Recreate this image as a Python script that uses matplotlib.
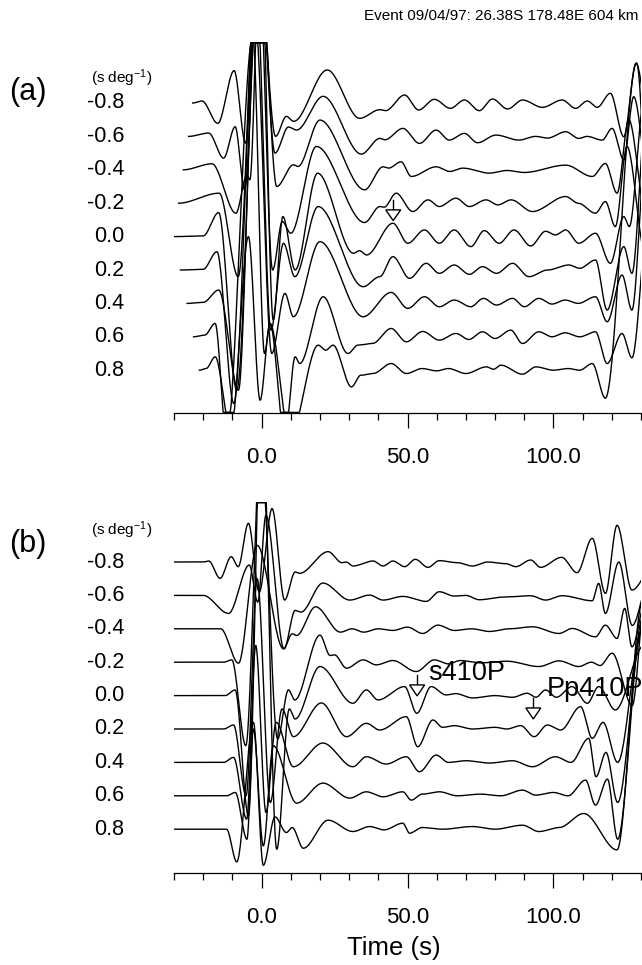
import numpy as np
import matplotlib
matplotlib.use("Agg")
import matplotlib.pyplot as plt
from matplotlib.patches import Polygon
from matplotlib.bezier import BezierSegment
import matplotlib.transforms as mtransforms

plt.rcParams['font.family'] = ['Liberation Sans', 'DejaVu Sans']
plt.rcParams['mathtext.fontset'] = 'custom'
plt.rcParams['mathtext.rm'] = 'Liberation Sans'
plt.rcParams['mathtext.it'] = 'Liberation Sans'
plt.rcParams['mathtext.bf'] = 'Liberation Sans:bold'

# ---------------- data ----------------
SLOWNESS_LABELS = ['-0.8', '-0.6', '-0.4', '-0.2', '0.0', '0.2', '0.4', '0.6', '0.8']
MAJOR_TICKS = [0, 50, 100]
MAJOR_TICK_LABELS = ['0.0', '50.0', '100.0']
MINOR_TICKS = list(range(-30, 131, 10))
TITLE = 'Event 09/04/97: 26.38S 178.48E 604 km'

# waveform extrema (time s, amplitude in trace-spacing units)
A_M08 = [(-23.6,0),(-20.4,0.06),(-15.0,-0.61),(-9.4,0.97),(-5.5,-1.2),(-1.2,4.5),(4.8,-1.0),(8.5,-0.4),(11.0,-0.55),(22.5,0.99),(33.6,-0.46),(40.5,-0.2),(42.5,-0.23),(49.0,0.24),(53.8,-0.21),(59.2,0.11),(64.7,-0.16),(69.5,0.09),(74.6,-0.23),(79.1,0.12),(84.3,-0.18),(89.4,0.09),(96.2,-0.13),(103.0,0.09),(107.6,-0.16),(111.6,0.06),(115.0,-0.13),(119.5,0.29),(124.1,-1.01),(128.3,1.19),(134.0,-1.5)]
A_M06 = [(-25.0,0),(-18.1,0.1),(-13.0,-0.65),(-9.05,0.29),(-5.8,-1.6),(-0.9,5.5),(4.6,-0.5),(9.2,0.28),(12.0,0.19),(21.1,1.2),(34.2,-0.53),(40.5,-0.06),(42.3,-0.1),(48.4,0.24),(54.1,-0.21),(59.8,0.19),(64.3,-0.11),(69.5,0.09),(74.0,-0.19),(80.3,0.04),(88.2,-0.11),(93.9,0.0),(98.0,-0.05),(104.2,0.14),(108.7,-0.06),(111.5,0.0),(116.7,-0.11),(120.1,0.24),(124.1,-0.7),(127.5,1.19),(133.0,-1.5)]
A_M04 = [(-26.8,0),(-17.0,0.18),(-8.8,-1.3),(-5.0,-0.15),(-4.0,-0.3),(-0.6,6.5),(5.2,-0.5),(10.9,0.15),(12.5,0.1),(20.0,1.49),(35.3,-0.6),(41.6,0.09),(43.5,0.05),(47.8,0.24),(51.3,-0.2),(59.8,0.09),(64.5,-0.05),(69.0,0.05),(78.0,-0.1),(84.0,-0.02),(90.0,-0.08),(104.2,0.14),(113.3,-0.2),(117.8,0.19),(121.8,-0.7),(125.8,1.5),(132.0,-1.5)]
A_M02 = [(-28.4,0),(-14.5,0.3),(-8.0,-2.2),(-1.3,8.0),(3.8,-2.0),(7.1,-0.55),(10.0,-0.9),(18.8,1.7),(35.3,-0.58),(40.5,-0.1),(42.0,-0.12),(46.1,0.3),(51.8,-0.25),(57.0,0.1),(60.9,-0.1),(66.6,0.15),(71.2,-0.1),(76.9,0.1),(81.0,-0.05),(85.5,0.1),(92.8,-0.25),(104.2,0.2),(108.5,0.0),(114.4,-0.3),(117.8,0.05),(121.2,-0.7),(125.2,1.7),(131.5,-1.5)]
A_000 = [(-30.0,0),(-20.0,0.02),(-14.7,0.72),(-8.5,-4.6),(-0.4,9.5),(4.0,-2.5),(7.3,0.6),(11.5,-1.0),(19.2,1.9),(31.5,-0.5),(33.5,-0.42),(36.0,-0.55),(45.0,0.4),(50.1,-0.2),(55.8,0.2),(60.9,-0.2),(66.0,0.2),(71.7,-0.3),(76.3,0.18),(81.4,-0.2),(86.5,0.2),(92.2,-0.28),(97.3,0.16),(100.7,0.05),(104.2,0.2),(108.7,-0.2),(114.4,0.1),(119.5,-0.8),(124.1,0.6),(126.0,0.3),(131.0,4.0)]
A_P02 = [(-27.8,0),(-20.0,0.02),(-15.3,0.55),(-9.5,-4.0),(-1.8,8.5),(3.2,-1.8),(7.5,0.8),(11.4,-0.2),(19.4,1.9),(34.8,-0.5),(40.5,-0.2),(45.0,0.4),(50.7,-0.25),(56.4,0.2),(60.9,-0.1),(66.0,0.15),(71.2,-0.13),(75.7,0.1),(80.5,-0.1),(86.0,0.2),(91.6,-0.2),(98.0,0.0),(105.3,0.15),(109.0,0.05),(114.4,0.3),(118.4,-1.2),(124.1,0.7),(126.9,-0.1),(132.0,5.0)]
A_P04 = [(-25.5,0),(-20.0,0.03),(-14.7,0.4),(-7.9,-2.6),(-2.2,8.5),(3.5,-1.5),(8.0,0.3),(10.9,-0.4),(20.0,1.85),(34.8,-0.4),(44.4,0.33),(50.1,-0.15),(55.8,0.2),(60.9,-0.1),(66.0,0.1),(71.7,-0.1),(76.0,0.15),(80.5,-0.05),(86.0,0.15),(90.0,-0.1),(95.0,0.15),(99.5,-0.02),(104.0,0.1),(108.5,0.0),(114.4,0.2),(118.4,-0.55),(123.5,0.85),(126.9,-0.2),(132.0,5.0)]
A_P06 = [(-23.3,0),(-19.5,0.05),(-15.9,0.4),(-12.0,-3.0),(-3.0,9.0),(1.0,-0.5),(2.9,0.4),(8.0,-3.0),(11.5,-0.6),(13.1,-0.8),(21.1,1.2),(29.6,-0.5),(33.0,-0.25),(38.0,-0.2),(44.4,0.25),(49.6,-0.15),(55.2,0.16),(60.9,-0.1),(66.6,0.1),(71.0,-0.08),(75.7,0.15),(80.0,-0.05),(85.4,0.2),(89.4,-0.2),(95.0,0.15),(99.5,0.0),(104.0,0.12),(109.0,0.0),(114.4,0.15),(118.4,-0.8),(123.5,0.1),(126.9,-0.63),(133.0,4.0)]
A_P08 = [(-21.3,0),(-19.0,0.05),(-15.9,0.4),(-10.5,-1.8),(-4.5,4.0),(-0.5,-0.9),(2.9,1.4),(9.7,-2.0),(19.4,0.75),(22.0,0.6),(24.5,0.75),(30.8,-0.5),(34.0,-0.15),(38.2,-0.1),(44.4,0.2),(49.6,-0.1),(55.0,0.05),(60.0,-0.02),(64.0,0.05),(70.0,-0.1),(77.0,0.1),(79.5,0.03),(82.0,0.15),(89.4,-0.12),(94.0,0.1),(100.0,0.0),(105.0,0.05),(109.0,0.0),(113.3,0.2),(117.8,-0.84),(128.5,9.2),(134.0,2.0)]

B_M08 = [(-30.0,0),(-19.8,0),(-18.1,0.03),(-14.2,-0.49),(-10.4,0.16),(-8.0,-0.14),(-4.5,1.16),(-0.8,-0.9),(3.6,1.6),(7.9,-1.14),(11.5,-0.3),(13.0,-0.34),(22.8,0.31),(27.5,-0.02),(29.0,0.0),(31.3,-0.12),(38.2,0.03),(41.6,-0.12),(45.0,0.03),(49.0,-0.14),(52.7,0.08),(57.0,-0.16),(60.9,0.04),(67.0,-0.02),(72.3,-0.12),(77.4,0.0),(83.7,-0.05),(87.1,-0.14),(92.2,0.06),(95.6,-0.16),(102.8,0.14),(108.1,-0.32),(113.3,0.71),(117.8,-0.94),(121.8,1.1),(126.9,-0.84),(135.0,0.0)]
B_M06 = [(-30.0,0),(-20.0,0),(-11.3,-0.54),(-4.2,0.91),(-1.3,-0.2),(1.5,2.4),(7.7,-1.6),(11.5,-0.45),(13.5,-0.5),(21.0,0.37),(30.2,-0.14),(37.0,0.01),(41.6,-0.14),(48.4,-0.03),(56.4,-0.18),(60.9,0.11),(66.0,-0.02),(70.0,0.0),(74.6,-0.13),(83.0,-0.05),(92.2,-0.01),(97.3,-0.14),(103.0,-0.01),(113.3,-0.16),(115.5,0.36),(117.8,-0.54),(122.4,1.0),(127.0,-0.9),(133.0,0.5)]
B_M04 = [(-30.0,0),(-14.0,0),(-7.9,-1.03),(-1.5,2.5),(7.5,-0.6),(10.5,-0.15),(12.0,-0.2),(18.5,0.66),(27.0,-0.1),(31.0,0.0),(35.0,-0.1),(40.0,0.0),(45.0,-0.05),(50.0,0.05),(55.2,-0.14),(60.4,0.11),(66.0,-0.05),(72.0,0.0),(78.0,-0.08),(85.0,0.0),(92.8,0.06),(101.9,-0.14),(106.4,0.01),(114.4,-0.24),(117.8,0.11),(121.8,-0.29),(124.4,0.61),(126.9,-0.54),(132.0,1.0)]
B_M02 = [(-30.0,0),(-13.0,0),(-10.2,0.07),(-5.4,-2.5),(-0.3,6.5),(5.5,-2.3),(9.2,-0.83),(11.4,-1.13),(20.0,0.81),(23.5,0.2),(25.0,0.22),(29.1,-0.18),(34.8,0.07),(39.3,-0.08),(45.0,0.05),(53.0,-0.28),(59.2,0.07),(64.0,-0.05),(68.0,0.05),(75.0,-0.02),(84.0,0.03),(95.0,-0.13),(101.9,0.04),(108.7,-0.13),(113.0,0.0),(116.0,-0.1),(120.1,0.27),(127.0,-1.3),(131.5,2.0)]
B_000 = [(-30.0,0),(-12.5,0),(-9.05,0.17),(-4.5,-3.6),(0.0,9.0),(5.2,-4.6),(9.5,-0.4),(11.5,-0.7),(20.0,0.87),(31.3,-0.23),(35.9,0.17),(39.9,-0.13),(49.0,0.27),(53.2,-0.53),(58.1,0.27),(63.2,0.02),(66.5,0.06),(72.3,-0.07),(80.0,0.0),(86.0,-0.05),(91.0,0.07),(94.0,-0.05),(97.3,0.17),(101.0,-0.05),(106.4,0.27),(111.6,-0.23),(115.5,0.27),(121.2,-0.43),(131.0,1.5)]
B_P02 = [(-30.0,0),(-13.0,0),(-9.6,0.12),(-5.3,-2.0),(-1.5,4.5),(3.0,-2.2),(7.0,0.6),(10.9,-0.23),(20.5,0.78),(29.1,-0.23),(35.9,0.17),(40.5,-0.03),(49.6,0.37),(53.5,-0.53),(58.7,0.27),(62.0,0.05),(66.0,0.1),(72.3,0.0),(80.0,0.05),(84.0,0.0),(88.8,0.1),(93.4,-0.23),(97.9,0.12),(102.5,-0.03),(109.3,0.67),(113.3,-0.28),(117.0,0.2),(122.0,-1.0),(130.5,3.0)]
B_P04 = [(-30.0,0),(-13.0,0),(-9.6,0.15),(-5.1,-1.7),(-2.0,3.5),(1.5,-1.5),(5.0,1.2),(10.9,-0.13),(21.0,0.58),(31.3,-0.13),(35.9,0.17),(42.7,-0.05),(49.6,0.17),(54.1,-0.28),(59.8,0.22),(64.0,0.0),(70.0,0.05),(78.0,-0.02),(86.0,0.05),(92.8,-0.13),(100.7,0.17),(106.0,0.0),(112.1,0.72),(114.6,-0.43),(118.0,0.3),(122.0,-1.2),(130.5,4.0)]
B_P06 = [(-30.0,0),(-12.0,0),(-9.0,0.1),(-5.0,-1.3),(-2.8,2.0),(0.6,-1.5),(4.0,1.5),(12.0,-0.22),(21.0,0.38),(30.2,-0.07),(35.9,0.12),(41.6,-0.03),(48.4,0.12),(51.3,-0.13),(55.0,0.05),(60.9,0.12),(67.0,0.0),(75.0,0.05),(82.0,0.0),(89.4,0.17),(93.9,0.02),(100.0,0.1),(105.0,0.0),(111.0,0.47),(114.4,-0.28),(118.5,0.5),(122.0,-1.3),(130.5,5.3)]
B_P08 = [(-30.0,0),(-12.0,0),(-8.5,-0.98),(-2.8,3.2),(0.6,-1.08),(4.6,0.37),(8.5,-0.1),(10.5,0.05),(14.3,-0.57),(22.8,0.27),(31.3,-0.07),(37.0,0.08),(42.0,-0.02),(48.4,0.18),(50.7,-0.12),(55.0,0.05),(62.0,0.0),(72.3,0.08),(80.0,0.0),(89.4,0.12),(95.0,-0.07),(102.0,0.05),(110.4,0.47),(121.8,-0.62),(130.5,6.8)]

PANEL_A_TRACES = [A_M08, A_M06, A_M04, A_M02, A_000, A_P02, A_P04, A_P06, A_P08]
PANEL_B_TRACES = [B_M08, B_M06, B_M04, B_M02, B_000, B_P02, B_P04, B_P06, B_P08]

# phase markers: (time, stem top, triangle top, tip) in axes data units
ARROWS_A = [(45.1, -2.90, -3.20, -3.52)]
ARROWS_B = [(53.3, -3.38, -3.68, -4.01), (93.1, -4.07, -4.37, -4.70)]
PHASE_LABELS_B = [('s410P', 57.0, -3.32), ('Pp410P', 97.8, -3.80)]

# ---------------- figure ----------------
W, H = 642, 965
fig = plt.figure(figsize=(W / 100, H / 100), dpi=100)


def trace_curve(points, n=30):
    """Smooth curve through the read extrema (horizontal tangent at each)."""
    xs, ys = [], []
    for (t0, a0), (t1, a1) in zip(points[:-1], points[1:]):
        dt = t1 - t0
        seg = BezierSegment(np.array([[t0, a0], [t0 + dt / 3.0, a0],
                                      [t1 - dt / 3.0, a1], [t1, a1]]))
        p = seg(np.linspace(0.0, 1.0, n))
        xs.append(p[:, 0])
        ys.append(p[:, 1])
    return np.concatenate(xs), np.concatenate(ys)


def make_panel(bottom_px, top_px, spacing_px, first_base_px, traces, arrows,
               panel_label, label_y_px, unit_y_px):
    ax = fig.add_axes([174 / W, (H - bottom_px) / H, 467 / W, (bottom_px - top_px) / H])
    ytop = (first_base_px - top_px) / spacing_px
    ybot = -(bottom_px - first_base_px) / spacing_px
    ax.set_xlim(-30, 130)
    ax.set_ylim(ybot, ytop)
    eps = 0.6 / spacing_px
    for k, pts in enumerate(traces):
        x, a = trace_curve(pts)
        y = np.clip(-k + a, ybot + eps, ytop - eps)   # amplitude saturation as in the plot
        ax.plot(x, y, color='black', lw=1.0, solid_joinstyle='round')
    hw = 7.5 / 2.919
    for (t, stem_top, tri_top, tip) in arrows:
        ax.plot([t, t], [stem_top, tri_top], color='black', lw=1.0, zorder=5)
        ax.add_patch(Polygon([(t - hw, tri_top), (t + hw, tri_top), (t, tip)],
                             closed=True, fc='white', ec='black', lw=1.0, zorder=6))
    for side in ['left', 'right', 'top']:
        ax.spines[side].set_visible(False)
    ax.spines['bottom'].set_linewidth(0.9)
    ax.spines['bottom'].set_zorder(8)
    ax.set_yticks([])
    ax.set_xticks(MAJOR_TICKS)
    ax.set_xticklabels(MAJOR_TICK_LABELS)
    ax.set_xticks(MINOR_TICKS, minor=True)
    ax.tick_params(axis='x', which='major', direction='out', length=10.8, width=0.9,
                   pad=13.5, labelsize=16)
    ax.tick_params(axis='x', which='minor', direction='out', length=5, width=0.9)
    tr = mtransforms.blended_transform_factory(fig.transFigure, ax.transData)
    for k, lab in enumerate(SLOWNESS_LABELS):
        ax.text(124 / W, -k, lab, transform=tr, ha='right', va='center',
                fontsize=15.5, clip_on=False)
    fig.text(91 / W, 1 - unit_y_px / H, r'(s deg$^{-1}$)', ha='left', va='center',
             fontsize=11)
    fig.text(28 / W, 1 - label_y_px / H, panel_label, ha='center', va='center',
             fontsize=22)
    return ax


ax_a = make_panel(413, 42, 33.4, 103, PANEL_A_TRACES, ARROWS_A, '(a)', 92, 78)
ax_b = make_panel(873, 502, 33.4, 562, PANEL_B_TRACES, ARROWS_B, '(b)', 544, 530)

for name, t, y in PHASE_LABELS_B:
    ax_b.text(t, y, name, ha='left', va='center', fontsize=19.5, clip_on=False, zorder=7)

fig.text(638 / W, 1 - 16 / H, TITLE, ha='right', va='center', fontsize=11)
fig.text(394 / W, 1 - 948 / H, 'Time (s)', ha='center', va='center', fontsize=18.5)

fig.savefig('out.png', dpi=100)
